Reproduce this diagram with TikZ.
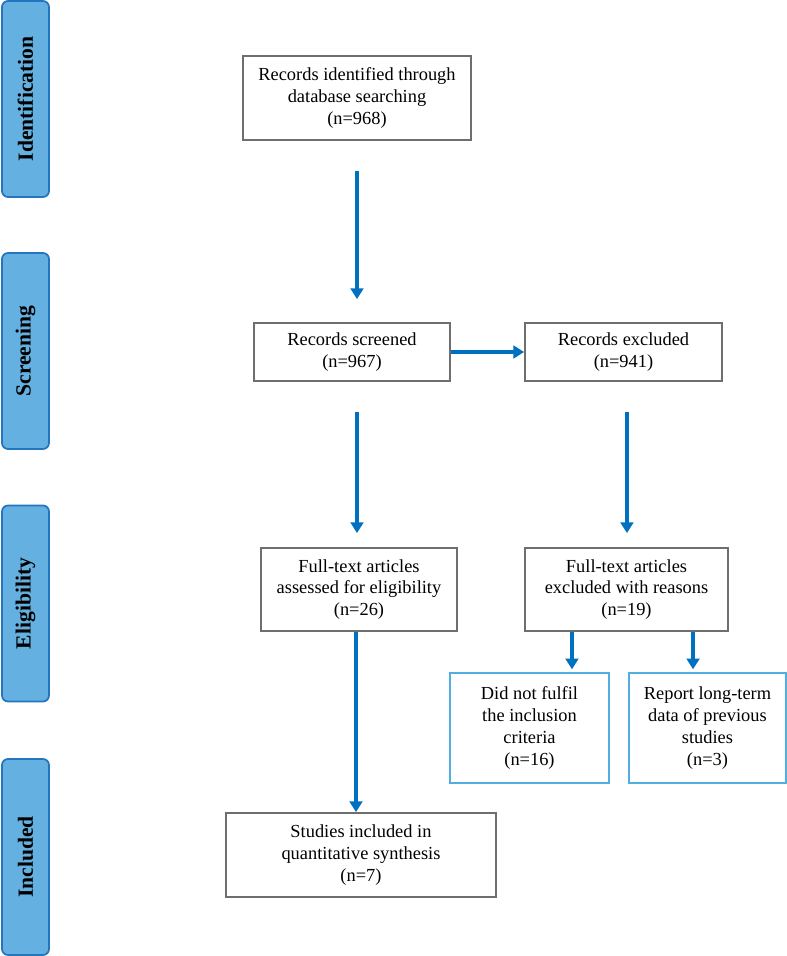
\documentclass[tikz,border=0pt]{standalone}
\usepackage{fontspec}
\setmainfont{Liberation Serif}
\usetikzlibrary{arrows.meta}

\definecolor{flowblue}{RGB}{0,112,192}
\definecolor{barfill}{RGB}{100,176,224}
\definecolor{barline}{RGB}{35,117,190}
\definecolor{boxgray}{RGB}{110,110,110}
\definecolor{subline}{RGB}{80,175,225}

\begin{document}
\begin{tikzpicture}[x=0.75pt, y=-0.75pt,
        phase/.style={draw=barline, fill=barfill, line width=1.3pt, rounded corners=4.5pt, rotate=90,
            minimum width=147pt, minimum height=35.25pt, inner sep=0pt, font=\fontsize{16.2}{19}\selectfont\bfseries},
        box/.style={draw=boxgray, line width=1.4pt, align=center, inner sep=0pt, font=\fontsize{13.8}{16.3}\selectfont},
        subbox/.style={box, draw=subline, line width=1.1pt},
        flow/.style={draw=flowblue, line width=3pt, -{Triangle[width=9.5pt, length=8pt]}}]
        \path[use as bounding box] (0, 0) rectangle (787, 956);

        \node[phase] (ident) at (25.5, 99) {Identification};
        \node[phase] (screen) at (25.5, 351) {Screening};
        \node[phase] (elig) at (25.5, 603.5) {Eligibility};
        \node[phase] (incl) at (25.5, 857) {Included};

        \node[box, minimum width=171pt, minimum height=63pt] (rec) at (357, 98) {Records identified through\\database searching\\(n=968)};
        \node[box, minimum width=147pt, minimum height=43.5pt] (screened) at (352, 352) {Records screened\\(n=967)};
        \node[box, minimum width=147.75pt, minimum height=43.5pt] (excl) at (623.5, 352) {Records excluded\\(n=941)};
        \node[box, minimum width=147pt, minimum height=62.25pt] (full) at (359, 589.5) {Full-text articles\\assessed for eligibility\\(n=26)};
        \node[box, minimum width=152.25pt, minimum height=62.25pt] (fullexcl) at (626.5, 589.5) {Full-text articles\\excluded with reasons\\(n=19)};
        \node[subbox, minimum width=119.25pt, minimum height=82.5pt] (crit) at (529.5, 728) {Did not fulfil\\the inclusion\\criteria\\(n=16)};
        \node[subbox, minimum width=117.75pt, minimum height=82.5pt] (longterm) at (707.5, 728) {Report long-term\\data of previous\\studies\\(n=3)};
        \node[box, minimum width=202.5pt, minimum height=63pt] (studies) at (361, 855) {Studies included in\\quantitative synthesis\\(n=7)};

        \draw[flow] ([yshift=-22.5pt]rec.south) -- ([yshift=17.25pt]rec.south |- screened.north);
        \draw[flow] (screened.east) -- (excl.west);
        \draw[flow] ([xshift=3.75pt, yshift=-22.5pt]screened.south) -- ([xshift=3.75pt, yshift=10.5pt]screened.south |- full.north);
        \draw[flow] ([xshift=2.6pt, yshift=-22.5pt]excl.south) -- ([xshift=2.6pt, yshift=10.5pt]excl.south |- fullexcl.north);
        \draw[flow] ([xshift=-2.25pt]full.south) -- ([xshift=-2.25pt]full.south |- studies.north);
        \draw[flow] ([xshift=-40.9pt]fullexcl.south) -- ([xshift=-40.9pt, yshift=2.25pt]fullexcl.south |- crit.north);
        \draw[flow] ([xshift=49.9pt]fullexcl.south) -- ([xshift=49.9pt, yshift=2.25pt]fullexcl.south |- longterm.north);
\end{tikzpicture}
\end{document}
